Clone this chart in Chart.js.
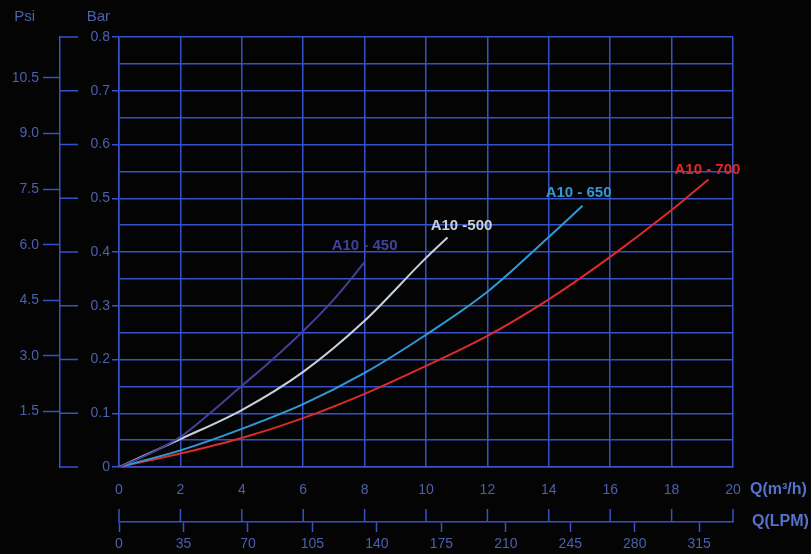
<!DOCTYPE html>
<html>
<head>
<meta charset="utf-8">
<title>A10 pump curves</title>
<script src="https://cdn.jsdelivr.net/npm/chart.js@4.4.1/dist/chart.umd.min.js"></script>
<style>
  html, body { margin: 0; padding: 0; background: #040405; }
  #wrap { position: relative; width: 811px; height: 554px; }
</style>
</head>
<body>
<div id="wrap"><canvas id="pumpChart"></canvas></div>
<script>
// Flow in m3/h, pressure in bar
const flow450 = [0, 1, 2, 3, 4, 5, 6, 7, 8.0];
const bar450  = [0, 0.025, 0.056, 0.102, 0.151, 0.200, 0.253, 0.312, 0.381];

const flow500 = [0, 2, 4, 6, 8, 10, 10.7];
const bar500  = [0, 0.052, 0.106, 0.177, 0.272, 0.389, 0.427];

const flow650 = [0, 2, 4, 6, 8, 10, 12, 14, 15.1];
const bar650  = [0, 0.031, 0.071, 0.117, 0.175, 0.246, 0.326, 0.428, 0.486];

const flow700 = [0, 2, 4, 6, 8, 10, 12, 14, 16, 18, 19.2];
const bar700  = [0, 0.025, 0.054, 0.091, 0.136, 0.188, 0.244, 0.312, 0.391, 0.478, 0.535];

const seriesNames = ['A10 - 450', 'A10 -500', 'A10 - 650', 'A10 - 700'];

// Axis ranges / tick steps
const flowMax = 20;      // m3/h
const barMax = 0.8;
const psiPerBar = 14.5038;
const lpmPerM3h = 1000 / 60;
const psiStep = 1.5;
const lpmStep = 35;

const GRID = '#3553c9';
const TICK_TXT = '#4c60ab';
const FONT = 'Liberation Sans, Arial, sans-serif';

// colour + label nudge per curve
const curveStyle = [
    { color: '#41419a', dx: 0,  dy: -16 },
    { color: '#c6d3dc', dx: 14, dy: -12 },
    { color: '#2f9ad6', dx: -4, dy: -13 },
    { color: '#dd2b2b', dx: -1, dy: -10 }
];

const toPoints = (xs, ys) => xs.map((q, i) => ({ x: q, y: ys[i] }));
const allFlows = [flow450, flow500, flow650, flow700];
const allBars = [bar450, bar500, bar650, bar700];

const datasets = allFlows.map((fl, i) => ({
    label: seriesNames[i],
    data: toPoints(fl, allBars[i]),
    borderColor: curveStyle[i].color,
    borderWidth: 2,
    pointRadius: 0,
    fill: false,
    cubicInterpolationMode: 'monotone',
    xAxisID: 'x',
    yAxisID: 'y'
}));

const isTenth = v => Math.abs(v * 10 - Math.round(v * 10)) < 1e-6;

// extra drawing: bracket ticks, up-ticks on LPM line, axis captions, curve labels
const decorPlugin = {
    id: 'decor',
    afterDraw(chart) {
        const { ctx, scales } = chart;
        const y = scales.y, psi = scales.psi, x = scales.x, lpm = scales.lpm;
        ctx.save();
        ctx.strokeStyle = GRID;
        ctx.lineWidth = 1.5;

        // bar ticks on the right of the Psi line
        y.ticks.forEach(t => {
            if (!isTenth(t.value)) return;
            const py = y.getPixelForValue(t.value);
            ctx.beginPath();
            ctx.moveTo(psi.right, py);
            ctx.lineTo(psi.right + 18, py);
            ctx.stroke();
        });

        // m3/h ticks pointing up from the LPM axis line
        x.ticks.forEach(t => {
            const px = x.getPixelForValue(t.value);
            ctx.beginPath();
            ctx.moveTo(px, lpm.top);
            ctx.lineTo(px, lpm.top - 13);
            ctx.stroke();
        });

        ctx.fillStyle = TICK_TXT;
        ctx.font = '15px ' + FONT;
        ctx.textBaseline = 'middle';
        ctx.textAlign = 'right';
        ctx.fillText('Bar', y.right - 9, 17);
        ctx.fillText('Psi', psi.right - 25, 17);

        ctx.fillStyle = '#5572cc';
        ctx.font = 'bold 16px ' + FONT;
        ctx.textAlign = 'left';
        ctx.fillText('Q(m\u00b3/h)', x.right + 17, 490);
        ctx.fillText('Q(LPM)', x.right + 19, 522);

        // curve names above the end of each curve
        ctx.font = 'bold 15px ' + FONT;
        ctx.textAlign = 'center';
        allFlows.forEach((fl, i) => {
            const last = fl.length - 1;
            const px = x.getPixelForValue(fl[last]);
            const py = y.getPixelForValue(allBars[i][last]);
            ctx.fillStyle = curveStyle[i].color;
            ctx.fillText(seriesNames[i], px + curveStyle[i].dx, py + curveStyle[i].dy);
        });
        ctx.restore();
    }
};

const tickFont = { family: FONT, size: 14 };

new Chart(document.getElementById('pumpChart'), {
    type: 'line',
    data: { datasets },
    options: {
        responsive: true,
        maintainAspectRatio: false,
        animation: false,
        layout: { padding: { top: 37, right: 78, bottom: 0, left: 0 } },
        plugins: {
            legend: { display: false },
            tooltip: { enabled: false }
        },
        scales: {
            x: {
                type: 'linear',
                position: 'bottom',
                weight: 0,
                min: 0,
                max: flowMax,
                ticks: { stepSize: 2, color: TICK_TXT, font: tickFont, padding: 15, maxRotation: 0 },
                grid: { color: GRID, lineWidth: 1.5, drawTicks: false },
                border: { color: GRID, width: 1.5 },
                afterFit: s => { s.height = 55; }
            },
            lpm: {
                type: 'linear',
                position: 'bottom',
                weight: 1,
                min: 0,
                max: flowMax * lpmPerM3h,
                ticks: { stepSize: lpmStep, includeBounds: false, color: TICK_TXT, font: tickFont, padding: 4, maxRotation: 0 },
                grid: { drawOnChartArea: false, tickLength: 10, tickColor: GRID, tickWidth: 1.5 },
                border: { color: GRID, width: 1.5 },
                afterFit: s => { s.height = 32; }
            },
            y: {
                type: 'linear',
                position: 'left',
                weight: 0,
                min: 0,
                max: barMax,
                ticks: {
                    stepSize: 0.05,
                    color: TICK_TXT,
                    font: tickFont,
                    padding: 2,
                    callback: v => {
                        if (!isTenth(v)) return '';
                        return v === 0 ? '0' : v.toFixed(1);
                    }
                },
                grid: {
                    color: GRID,
                    lineWidth: 1.5,
                    tickLength: 7,
                    tickColor: c => (c.tick && isTenth(c.tick.value)) ? GRID : 'rgba(0,0,0,0)'
                },
                border: { color: GRID, width: 1.5 },
                afterFit: s => { s.width = 59; }
            },
            psi: {
                type: 'linear',
                position: 'left',
                weight: 1,
                min: 0,
                max: barMax * psiPerBar,
                ticks: {
                    stepSize: psiStep,
                    includeBounds: false,
                    color: TICK_TXT,
                    font: tickFont,
                    padding: 4,
                    callback: v => v === 0 ? '' : v.toFixed(1)
                },
                grid: {
                    drawOnChartArea: false,
                    tickLength: 17,
                    tickWidth: 1.5,
                    tickColor: c => (c.tick && c.tick.value === 0) ? 'rgba(0,0,0,0)' : GRID
                },
                border: { color: GRID, width: 1.5 },
                afterFit: s => { s.width = 60; }
            }
        }
    },
    plugins: [decorPlugin]
});
</script>
</body>
</html>
